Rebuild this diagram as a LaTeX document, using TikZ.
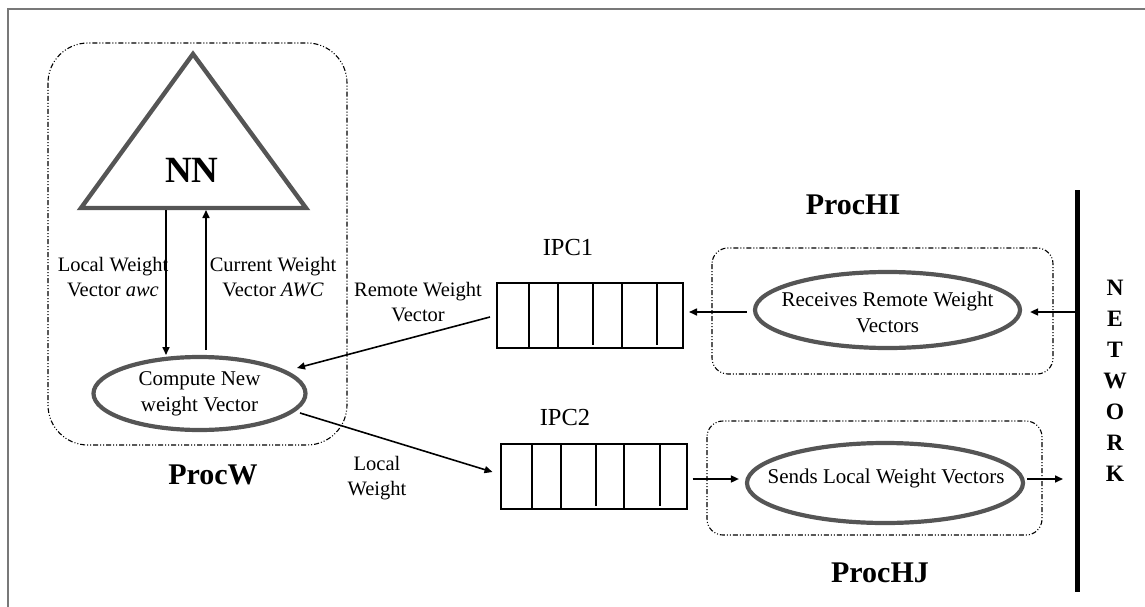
\documentclass[tikz,border=0pt]{standalone}
\usepackage{fontspec}
\setmainfont{Liberation Serif}
\usetikzlibrary{arrows.meta,shapes.geometric,calc}
\definecolor{edgegray}{RGB}{85,85,85}
\definecolor{framegray}{RGB}{120,120,120}
\tikzset{
  arr/.style={-{Triangle[length=8pt,width=7pt]}, line width=1.6pt},
  procbox/.style={draw, line width=1.1pt, dash pattern=on 5pt off 2pt on 1pt off 2pt on 1pt off 2pt},
  oval/.style={ellipse, draw=edgegray, line width=4.2pt, inner sep=0pt},
  ovaltext/.style={align=center, font=\fontsize{21}{26}\selectfont, inner sep=0pt},
  lbl/.style={align=center, font=\fontsize{20.5}{25}\selectfont, inner sep=0pt},
  title/.style={font=\fontsize{30}{34}\selectfont\bfseries, inner sep=0pt},
  queue/.style={draw, line width=2pt, minimum width=186pt, minimum height=65pt, inner sep=0pt},
  ipclbl/.style={font=\fontsize{24.5}{28}\selectfont, inner sep=0pt}
}
\begin{document}
\begin{tikzpicture}[x=1pt,y=-1pt]
\useasboundingbox (0,0) rectangle (1145,607);
% frame
\draw[framegray, line width=1.6pt] (8,607) -- (8,9) -- (1145,9);

% ProcW box
\draw[procbox, rounded corners=40pt] (48,43) rectangle (347,445);
% triangle
\coordinate (apex) at (193,54);
\coordinate (bl) at (81,208);
\coordinate (br) at (306,208);
\draw[edgegray, line width=4.4pt, line join=miter] (apex) -- (bl) -- (br) -- cycle;
\node[font=\fontsize{37}{40}\selectfont\bfseries, inner sep=0pt] (nn) at (192,170) {NN};
\coordinate (b1) at (166,210);
\coordinate (b2) at (206,210);

% compute ellipse
\node[oval, minimum width=212pt, minimum height=73pt] (cnv) at (199.5,393.5) {};
\node[ovaltext] (cnvt) at (cnv.center) {Compute New\\weight Vector};
\coordinate (c1) at (166,355);
\coordinate (c2) at (206,350);
\draw[arr] (b1) -- (c1);
\draw[arr] (c2) -- (b2);
\node[lbl] (lwv) at (113,277) {Local Weight\\Vector \textit{awc}};
\node[lbl] (cwv) at (273,277) {Current Weight\\Vector \textit{AWC}};
\node[title] (procw) at (213,475) {ProcW};

% queues
\node[queue] (ipc1) at (590,315.5) {};
\foreach \x in {529,558,622} \draw[line width=2pt] (\x,283) -- (\x,348);
\foreach \x in {593,657} \draw[line width=2pt] (\x,283) -- (\x,345);
\node[ipclbl] (ipc1l) at (568,248) {IPC1};

\node[queue] (ipc2) at (593.5,476.5) {};
\foreach \x in {532,561,624} \draw[line width=2pt] (\x,444) -- (\x,509);
\foreach \x in {596,660} \draw[line width=2pt] (\x,444) -- (\x,506);
\node[ipclbl] (ipc2l) at (565,418) {IPC2};

% ProcW <-> queues
\coordinate (rwin) at (297,368);
\coordinate (lwout) at (300,413);
\draw[arr] ($(ipc1.west)+(-6,1.5)$) -- (rwin);
\draw[arr] (lwout) -- ($(ipc2.west)+(-7,-4.5)$);
\node[lbl] (rwv) at (418,302) {Remote Weight\\Vector};
\node[lbl] (lw) at (377,478) {Local\\Weight};

% ProcHI
\draw[procbox, rounded corners=16pt] (712,248) rectangle (1053,374);
\node[oval, minimum width=265pt, minimum height=76pt] (recv) at (887.5,310) {};
\node[ovaltext] (recvt) at (887.5,312) {Receives Remote Weight\\Vectors};
\node[title] (prochi) at (853,205) {ProcHI};

% ProcHJ
\draw[procbox, rounded corners=16pt] (707,421) rectangle (1042,535);
\node[oval, minimum width=276pt, minimum height=80pt] (send) at (885,483) {};
\node[ovaltext] (sendt) at (886,478) {Sends Local Weight Vectors};
\node[title] (prochj) at (880,573) {ProcHJ};

% network
\coordinate (nettop) at (1077,190);
\coordinate (netbot) at (1077,592);
\draw[line width=5pt] (nettop) -- (netbot);
\node[align=center, inner sep=0pt, font=\fontsize{23.5}{31}\selectfont\bfseries] (netl) at (1115,381) {N\\E\\T\\W\\O\\R\\K};

% arrows right side
\coordinate (netin) at (1075,312);
\coordinate (netout) at (1063,479);
\draw[arr] (netin) -- ($(recv.east)+(8,2)$);
\draw[arr] ($(recv.west)+(-6,2)$) -- ($(ipc1.east)+(5,-3.5)$);
\draw[arr] ($(ipc2.east)+(5,2.5)$) -- ($(send.west)+(-6,-4)$);
\draw[arr] ($(send.east)+(2,-4)$) -- (netout);
\end{tikzpicture}
\end{document}
